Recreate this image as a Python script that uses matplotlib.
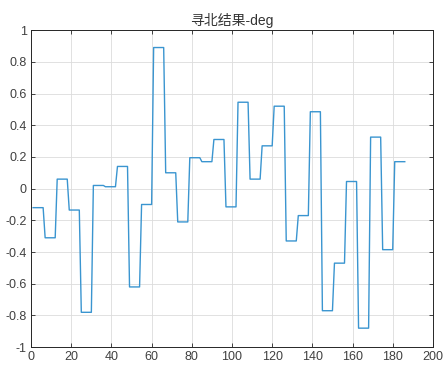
import numpy as np
import matplotlib
matplotlib.use("Agg")
import matplotlib.pyplot as plt
from matplotlib.ticker import FuncFormatter

plt.rcParams['font.family'] = ['Liberation Sans', 'Noto Sans CJK SC', 'DejaVu Sans']
plt.rcParams['axes.unicode_minus'] = False

# Value of each held segment (each held for 6 samples), samples 1..186
segment_values = [-0.12, -0.31, 0.06, -0.135, -0.78, 0.02, 0.012, 0.14, -0.62, -0.10,
                  0.89, 0.10, -0.21, 0.195, 0.17, 0.31, -0.115, 0.545, 0.06, 0.27,
                  0.52, -0.33, -0.17, 0.485, -0.77, -0.47, 0.045, -0.88, 0.325, -0.385,
                  0.17]
samples_per_segment = 6
title = "寻北结果-deg"
x_ticks = [0, 20, 40, 60, 80, 100, 120, 140, 160, 180, 200]
y_ticks = [-1, -0.8, -0.6, -0.4, -0.2, 0, 0.2, 0.4, 0.6, 0.8, 1]

y = np.repeat(segment_values, samples_per_segment)
x = np.arange(1, len(y) + 1)

fig = plt.figure(figsize=(4.44, 3.67), dpi=100)
ax = fig.add_axes([0.070, 0.054, 0.905, 0.864])
ax.plot(x, y, color='#3a95d0', linewidth=1.0)
ax.set_xlim(0, 200)
ax.set_ylim(-1, 1)
ax.set_xticks(x_ticks)
ax.set_yticks(y_ticks)
ax.yaxis.set_major_formatter(FuncFormatter(lambda v, p: '%g' % round(v, 2)))
ax.grid(True, color='#dcdcdc', linewidth=0.6)
ax.set_axisbelow(True)
for s in ax.spines.values():
    s.set_color('#262626')
    s.set_linewidth(0.7)
ax.tick_params(direction='in', length=3, width=0.6, colors='#262626',
               labelsize=9, labelcolor='#404040', top=True, right=True, pad=3)
ax.set_title(title, fontsize=10, color='#333333', pad=4)
fig.savefig('out.png', dpi=100)
